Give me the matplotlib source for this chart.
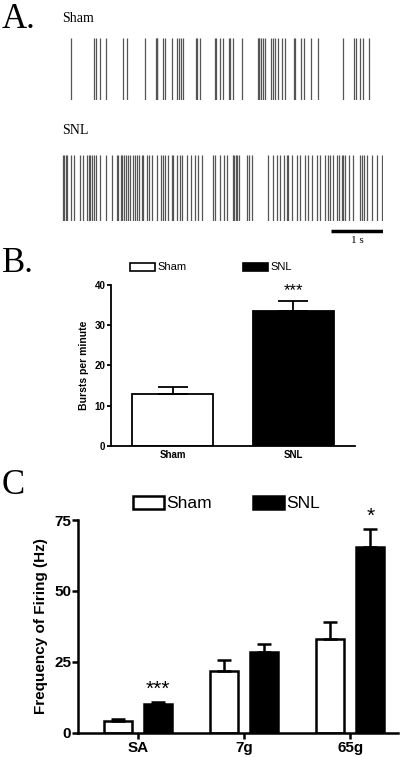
import matplotlib
matplotlib.use("Agg")
import matplotlib.pyplot as plt
from matplotlib.patches import Rectangle

# spike times (s)
sham_spikes = [0.17, 0.62, 0.65, 0.74, 0.85, 1.17, 1.25, 1.60, 1.81, 1.82, 1.83, 1.95, 1.99,
               2.11, 2.22, 2.25, 2.28, 2.32, 2.57, 2.60, 2.65, 2.94, 2.97, 3.03, 3.09, 3.21,
               3.23, 3.28, 3.47, 3.76, 3.78, 3.79, 3.82, 3.87, 3.90, 4.02, 4.05, 4.10, 4.15,
               4.24, 4.28, 4.46, 4.49, 4.60, 4.65, 4.78, 4.93, 5.40, 5.62, 5.65, 5.73, 5.79, 5.90]
snl_spikes = [0.01, 0.04, 0.07, 0.10, 0.17, 0.23, 0.35, 0.41, 0.49, 0.51, 0.54, 0.57, 0.62,
              0.65, 0.73, 0.85, 0.96, 1.05, 1.08, 1.13, 1.15, 1.19, 1.23, 1.27, 1.31, 1.36,
              1.40, 1.44, 1.49, 1.53, 1.56, 1.63, 1.68, 1.74, 1.82, 1.90, 1.95, 1.99, 2.04,
              2.11, 2.14, 2.21, 2.26, 2.30, 2.40, 2.49, 2.56, 2.62, 2.69, 2.91, 2.94, 3.04,
              3.12, 3.17, 3.29, 3.31, 3.35, 3.37, 3.41, 3.55, 3.60, 3.65, 3.97, 4.05, 4.13,
              4.19, 4.26, 4.32, 4.35, 4.42, 4.51, 4.58, 4.67, 4.74, 4.80, 4.90, 4.96, 5.06,
              5.12, 5.15, 5.21, 5.28, 5.33, 5.38, 5.41, 5.44, 5.51, 5.60, 5.73, 5.76, 5.81,
              5.86, 5.96, 6.05, 6.15]
scale_bar = [5.17, 6.17]

# panel B
b_groups = ["Sham", "SNL"]
b_means = [12.8, 33.6]
b_sems = [1.9, 2.3]

# panel C
c_groups = ["SA", "7g", "65g"]
c_sham = [4.2, 21.7, 32.9]
c_sham_err = [0.5, 3.8, 6.0]
c_snl = [10.1, 28.3, 65.6]
c_snl_err = [0.8, 3.1, 6.1]

W, H = 405, 757
fig = plt.figure(figsize=(W / 100, H / 100), dpi=100)


def ax_px(x0, y0, x1, y1):
    return fig.add_axes([x0 / W, 1 - y1 / H, (x1 - x0) / W, (y1 - y0) / H])


serif = "Liberation Serif"
sans = "Liberation Sans"

# ---- Panel A: rasters
t0, px_per_s = 62, 52.0
xl = (0, (383 - t0) / px_per_s)
for spikes, (ya, yb) in [(sham_spikes, (38, 100)), (snl_spikes, (155, 221))]:
    ax = ax_px(t0, ya, 383, yb)
    ax.vlines(spikes, 0, 1, color="#555555", lw=0.9)
    ax.set_xlim(*xl)
    ax.set_ylim(0, 1)
    ax.axis("off")
ax = ax_px(t0, 226, 383, 236)
ax.plot(scale_bar, [0.5, 0.5], color="black", lw=2.5, solid_capstyle="butt")
ax.set_xlim(*xl)
ax.set_ylim(0, 1)
ax.axis("off")
fig.text(357 / W, 1 - 241 / H, "1 s", family=serif, fontsize=8, ha="center", va="center")
fig.text(2 / W, 1 - 20 / H, "A.", family=serif, fontsize=25, va="center")
fig.text(62 / W, 1 - 18 / H, "Sham", family=serif, fontsize=10, va="center")
fig.text(62 / W, 1 - 130 / H, "SNL", family=serif, fontsize=10, va="center")

# ---- Panel B
fig.text(2 / W, 1 - 263 / H, "B.", family=serif, fontsize=25, va="center")
axb = ax_px(111, 284.7, 355, 446)
xs = range(len(b_groups))
axb.bar(xs, b_means, width=0.67, color=["white", "black"], edgecolor="black", lw=1.3)
axb.errorbar(xs, b_means, yerr=[[0, 0], b_sems], fmt="none", ecolor="black", elinewidth=1.3,
             capsize=11, capthick=1.3)
axb.text(1, b_means[1] + b_sems[1] + 0.8, "***", ha="center", va="bottom", family=sans, fontsize=12)
axb.set_xlim(-0.51, 1.51)
axb.set_ylim(0, 40)
axb.set_yticks([0, 10, 20, 30, 40])
axb.set_xticks(list(xs))
axb.set_xticklabels(b_groups, family=sans, fontsize=7, fontweight="bold")
for lab in axb.get_yticklabels():
    lab.set_family(sans); lab.set_fontsize(7); lab.set_fontweight("bold")
axb.tick_params(axis="y", length=3, width=1.3, pad=1)
axb.tick_params(axis="x", length=0, pad=3)
axb.spines[["top", "right"]].set_visible(False)
for s in ["left", "bottom"]:
    axb.spines[s].set_linewidth(1.3)
axb.set_ylabel("Bursts per minute", family=sans, fontsize=7.5, fontweight="bold", labelpad=4)
for bx, fc, lab in [(130, "white", "Sham"), (243, "black", "SNL")]:
    fig.patches.append(Rectangle((bx / W, 1 - 271 / H), 25 / W, 8 / H, transform=fig.transFigure,
                                 facecolor=fc, edgecolor="black", lw=1.2))
    fig.text((bx + 27) / W, 1 - 267 / H, lab, family=sans, fontsize=8, va="center")

# ---- Panel C
fig.text(2 / W, 1 - 485 / H, "C", family=serif, fontsize=25, va="center")
axc = ax_px(78, 520, 398, 732.7)
xc = list(range(len(c_groups)))
off, w = 0.189, 0.264
xsh = [x - off for x in xc]
xsn = [x + off for x in xc]
axc.bar(xsh, c_sham, width=w, color="white", edgecolor="black", lw=1.8)
axc.bar(xsn, c_snl, width=w, color="black", edgecolor="black", lw=1.8)
axc.errorbar(xsh, c_sham, yerr=[[0] * 3, c_sham_err], fmt="none", ecolor="black",
             elinewidth=1.8, capsize=5, capthick=1.8)
axc.errorbar(xsn, c_snl, yerr=[[0] * 3, c_snl_err], fmt="none", ecolor="black",
             elinewidth=1.8, capsize=5, capthick=1.8)
axc.text(xsn[0], c_snl[0] + c_snl_err[0] + 1.2, "***", ha="center", va="bottom", family=sans, fontsize=15)
axc.text(xsn[2], c_snl[2] + c_snl_err[2] + 1.2, "*", ha="center", va="bottom", family=sans, fontsize=15)
axc.set_xlim(-0.566, 2.45)
axc.set_ylim(0, 75)
axc.set_yticks([0, 25, 50, 75])
axc.set_xticks(xc)
axc.set_xticklabels(c_groups, family=sans, fontsize=11, fontweight="bold")
for lab in axc.get_yticklabels():
    lab.set_family(sans); lab.set_fontsize(11); lab.set_fontweight("bold")
axc.tick_params(axis="y", length=4, width=1.8, pad=1)
axc.tick_params(axis="x", length=4, width=1.8, pad=2)
axc.spines[["top", "right"]].set_visible(False)
for s in ["left", "bottom"]:
    axc.spines[s].set_linewidth(1.8)
axc.set_ylabel("Frequency of Firing (Hz)", family=sans, fontsize=11, fontweight="bold", labelpad=4)
for bx, fc, lab in [(133, "white", "Sham"), (253, "black", "SNL")]:
    fig.patches.append(Rectangle((bx / W, 1 - 509 / H), 31 / W, 13 / H, transform=fig.transFigure,
                                 facecolor=fc, edgecolor="black", lw=1.8))
    fig.text((bx + 33) / W, 1 - 503 / H, lab, family=sans, fontsize=12.5, va="center")

fig.savefig("out.png", dpi=100)
